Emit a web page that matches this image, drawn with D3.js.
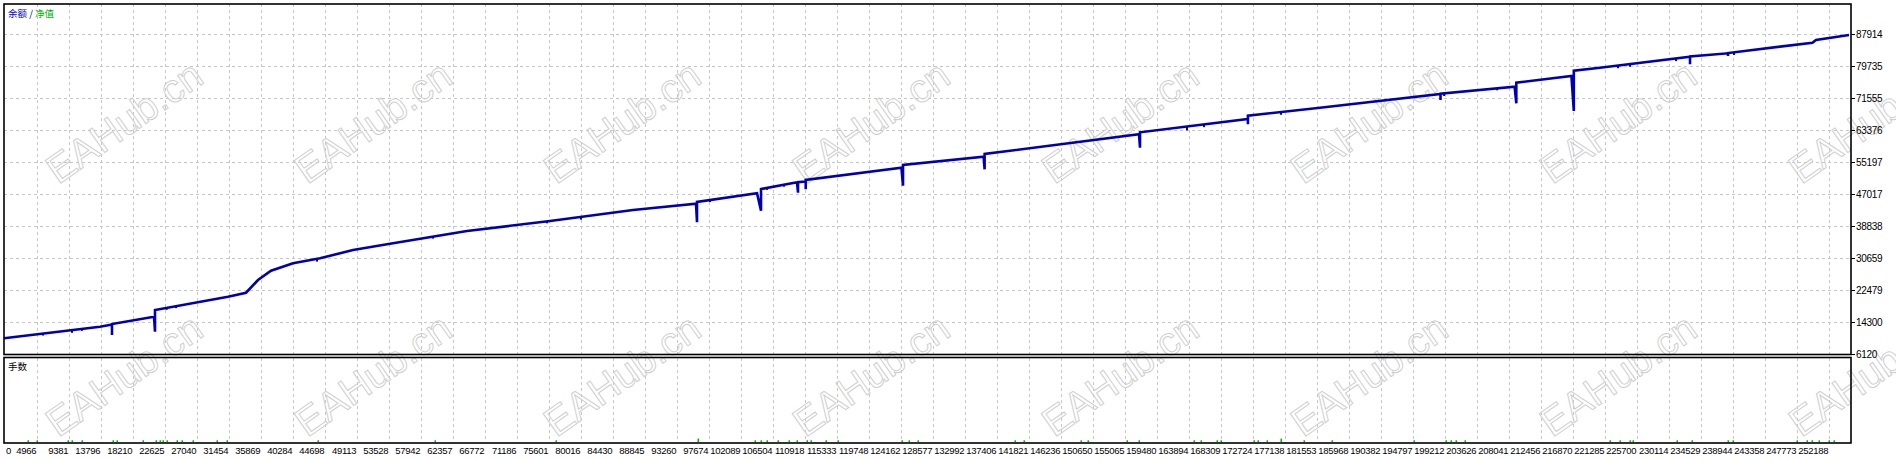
<!DOCTYPE html>
<html><head><meta charset="utf-8">
<script src="https://cdn.jsdelivr.net/npm/d3@7/dist/d3.min.js"></script>
<style>html,body{margin:0;padding:0;background:#fff;}svg{display:block;}</style>
</head><body>
<script>
// ---------- data ----------
const xTickLabels = [4966, 9381, 13796, 18210, 22625, 27040, 31454, 35869, 40284, 44698, 49113, 53528, 57942, 62357, 66772, 71186, 75601, 80016, 84430, 88845, 93260, 97674, 102089, 106504, 110918, 115333, 119748, 124162, 128577, 132992, 137406, 141821, 146236, 150650, 155065, 159480, 163894, 168309, 172724, 177138, 181553, 185968, 190382, 194797, 199212, 203626, 208041, 212456, 216870, 221285, 225700, 230114, 234529, 238944, 243358, 247773, 252188];
const yTickLabels = [6120, 14300, 22479, 30659, 38838, 47017, 55197, 63376, 71555, 79735, 87914];

const dealNo = [460, 13704, 15359, 15359, 15359, 21153, 21291, 21291, 31363, 33846, 35501, 37295, 40330, 44055, 48608, 53298, 64335, 75786, 87236, 95928, 96066, 96066, 104344, 104896, 104896, 109862, 110000, 110000, 111062, 111062, 111062, 124265, 124486, 124486, 135605, 135743, 135743, 157044, 157182, 157182, 172068, 172068, 172068, 182015, 198639, 198639, 198639, 208862, 209096, 209096, 216698, 217029, 217029, 220644, 233060, 233060, 233060, 238303, 238303, 238303, 249947, 250443, 254996];
const balance = [10133, 13098, 13650, 10977, 13790, 15654, 11820, 17367, 20766, 21789, 25035, 27412, 29304, 30582, 32703, 34160, 37560, 40116, 42928, 44538, 39784, 44980, 47197, 42749, 48296, 50008, 47350, 50050, 50250, 48219, 50596, 53740, 49139, 54430, 56552, 53331, 57242, 62278, 58852, 62789, 66188, 64834, 67032, 69077, 72579, 71045, 72680, 74445, 70201, 75467, 77180, 68233, 78534, 79301, 82113, 80170, 82200, 82982, 82292, 83050, 85691, 86382, 87660];

const dipDeal = [5840, 9841, 11217, 22899, 24188, 43640, 59645, 75370, 80062, 97860, 105724, 108070, 163666, 166011, 176634, 199134, 206446, 223130, 224785, 231131, 239133];
const dipDrop = [500, 700, 500, 500, 500, 700, 500, 500, 700, 500, 500, 500, 1000, 700, 700, 700, 500, 700, 700, 700, 700];

const lotDeal = [3770, 5012, 9289, 9841, 11220, 15497, 16049, 19636, 21430, 21981, 22395, 22947, 24327, 25017, 26534, 29845, 31225, 43779, 59920, 76613, 96204, 104068, 104895, 105723, 107241, 108758, 109862, 111241, 111793, 113863, 115518, 124348, 125314, 126603, 139937, 141178, 149043, 149968, 155389, 157044, 164632, 165598, 167805, 168357, 172907, 173459, 174701, 176634, 179807, 183671, 194983, 199398, 200088, 200777, 202019, 222023, 223403, 224782, 225196, 231269, 233338, 238305, 238994, 247870, 249249, 249939, 250905, 252284, 252974];
const lotSize = lotDeal.map(d => (d === 96204 || d === 176634) ? 0.04 : 0.02);

const legendParts = [["余额", "#0000c8"], [" / ", "#000080"], ["净值", "#00b400"]];
const lotsTitle = "手数";
const watermarkText = "EAHub.cn";

// ---------- layout ----------
const W = 1896, H = 460;
const plot = {left: 4, right: 1851, top: 4, bottom: 354.5};
const lotPanel = {top: 357.5, bottom: 443};
const font = "'Liberation Sans', Arial, sans-serif";

const x = d3.scaleLinear().domain([4966, 252188]).range([36.67, 1828.67]);
const y = d3.scaleLinear().domain([6120, 87914]).range([354, 34]);
const yLot = d3.scaleLinear().domain([0, 1]).range([lotPanel.bottom, lotPanel.top]);

const svg = d3.select("body").append("svg").attr("width", W).attr("height", H);
svg.append("rect").attr("width", W).attr("height", H).attr("fill", "#fff");

// grid
const grid = svg.append("g").attr("stroke", "#c6c6c6").attr("stroke-width", 1).attr("stroke-dasharray", "3,3").attr("shape-rendering", "crispEdges");
grid.selectAll("line.v").data(xTickLabels).join("line")
  .attr("x1", d => Math.round(x(d)) + 0.5).attr("x2", d => Math.round(x(d)) + 0.5)
  .attr("y1", plot.top).attr("y2", lotPanel.bottom);
grid.selectAll("line.h").data(yTickLabels.slice(1)).join("line")
  .attr("y1", d => Math.round(y(d)) + 0.5).attr("y2", d => Math.round(y(d)) + 0.5)
  .attr("x1", plot.left).attr("x2", plot.right);

// watermarks
const wm = svg.append("g").attr("font-family", font).attr("font-size", 40)
  .attr("fill", "none").attr("stroke", "#cfcfcf").attr("stroke-width", 1);
const wmCols = d3.range(8), wmRows = [122, 375];
wmRows.forEach(cy => {
  wmCols.forEach(k => {
    wm.append("text").attr("text-anchor", "middle").attr("dominant-baseline", "central")
      .attr("transform", `translate(${124 + 249 * k},${cy}) rotate(-35)`).text(watermarkText);
  });
});

// balance line
const pts = dealNo.map((d, i) => [d, balance[i]]);
svg.append("path").datum(pts)
  .attr("d", d3.line().x(d => x(d[0])).y(d => y(d[1])))
  .attr("fill", "none").attr("stroke", "#0000b0").attr("stroke-width", 2.6)
  .attr("stroke-linejoin", "miter");

// minor dips
const bis = d3.bisector(d => d).right;
function balAt(v) {
  const i = bis(dealNo, v);
  const i0 = Math.max(0, i - 1), i1 = Math.min(dealNo.length - 1, i);
  if (i0 === i1) return balance[i0];
  const t = (v - dealNo[i0]) / (dealNo[i1] - dealNo[i0]);
  return balance[i0] + t * (balance[i1] - balance[i0]);
}
svg.append("g").attr("stroke", "#0000b0").attr("stroke-width", 2)
  .selectAll("line").data(dipDeal).join("line")
  .attr("x1", d => x(d)).attr("x2", d => x(d))
  .attr("y1", d => y(balAt(d))).attr("y2", (d, i) => y(balAt(d) - dipDrop[i]));

// lots bars
svg.append("g").attr("fill", "#00b400").selectAll("rect").data(lotDeal).join("rect")
  .attr("x", d => Math.round(x(d)) - 0.5).attr("width", 1.5)
  .attr("y", (d, i) => yLot(lotSize[i]) - 1).attr("height", (d, i) => lotPanel.bottom - yLot(lotSize[i]));

// borders
const border = svg.append("g").attr("fill", "none").attr("stroke", "#000").attr("stroke-width", 1.6);
border.append("rect").attr("x", plot.left).attr("y", plot.top).attr("width", plot.right - plot.left).attr("height", plot.bottom - plot.top);
border.append("rect").attr("x", plot.left).attr("y", lotPanel.top).attr("width", plot.right - plot.left).attr("height", lotPanel.bottom - lotPanel.top);

// y axis labels + ticks
const yAx = svg.append("g").attr("font-family", font).attr("font-size", 10).attr("fill", "#000");
yAx.selectAll("line").data(yTickLabels).join("line")
  .attr("x1", plot.right).attr("x2", plot.right + 4)
  .attr("y1", d => Math.round(y(d)) + 0.5).attr("y2", d => Math.round(y(d)) + 0.5)
  .attr("stroke", "#000").attr("stroke-width", 1);
yAx.selectAll("text").data(yTickLabels).join("text")
  .attr("x", plot.right + 5).attr("y", d => y(d) + 1).attr("dominant-baseline", "middle")
  .attr("letter-spacing", "-0.3").text(d => d);

// x axis labels
const xAx = svg.append("g").attr("font-family", font).attr("font-size", 9.5).attr("fill", "#000");
xAx.append("text").attr("x", 6).attr("y", 451).attr("dominant-baseline", "middle").text("0");
xAx.selectAll("text.t").data(xTickLabels).join("text").attr("class", "t")
  .attr("x", d => x(d) - 0.5).attr("y", 451).attr("text-anchor", "end").attr("dominant-baseline", "middle")
  .attr("letter-spacing", "-0.3").text(d => d);

// legend
const lg = svg.append("text").attr("x", 8).attr("y", 17).attr("font-family", "'Noto Sans CJK SC', sans-serif").attr("font-size", 9.5);
legendParts.forEach(p => lg.append("tspan").attr("fill", p[1]).text(p[0]));
svg.append("text").attr("x", 8).attr("y", 370).attr("font-family", "'Noto Sans CJK SC', sans-serif").attr("font-size", 9.5).attr("fill", "#000").text(lotsTitle);
</script>
</body></html>
